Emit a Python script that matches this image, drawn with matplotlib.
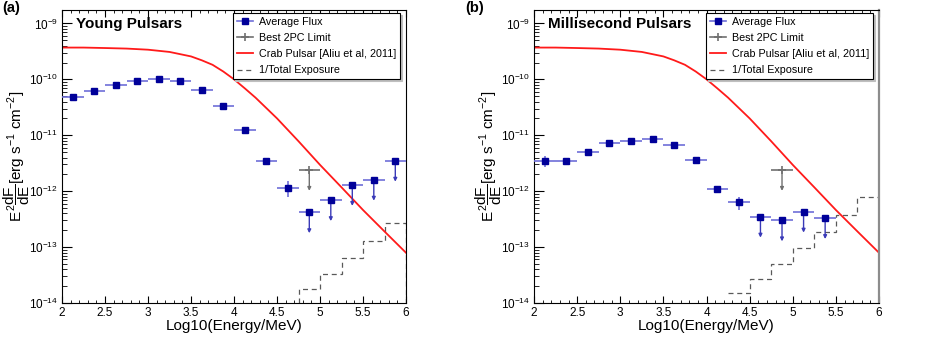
import matplotlib
matplotlib.use('Agg')
import matplotlib.pyplot as plt
from matplotlib.lines import Line2D
from matplotlib.ticker import LogLocator, MultipleLocator, NullFormatter

plt.rcParams['font.family'] = ['Liberation Sans', 'DejaVu Sans']
plt.rcParams['mathtext.fontset'] = 'custom'
plt.rcParams['mathtext.rm'] = 'Liberation Sans'
plt.rcParams['mathtext.it'] = 'Liberation Sans'
plt.rcParams['mathtext.bf'] = 'Liberation Sans:bold'

# ---- data ----
bin_half = 0.125

young_x = [2.125, 2.375, 2.625, 2.875, 3.125, 3.375, 3.625, 3.875,
           4.125, 4.375, 4.625, 4.875, 5.125, 5.375, 5.625, 5.875]
young_flux = [4.9e-11, 6.3e-11, 7.9e-11, 9.3e-11, 1.0e-10, 9.2e-11, 6.4e-11, 3.3e-11,
              1.25e-11, 3.4e-12, 1.15e-12, 4.2e-13, 6.9e-13, 1.29e-12, 1.6e-12, 3.5e-12]
young_err = [2e-12, 2.5e-12, 3e-12, 3.5e-12, 4e-12, 4e-12, 3e-12, 2e-12,
             1e-12, 4e-13, 3.6e-13, 0, 0, 0, 0, 0]
young_ul = [False] * 11 + [True] * 5

msp_x = [2.125, 2.375, 2.625, 2.875, 3.125, 3.375, 3.625, 3.875,
         4.125, 4.375, 4.625, 4.875, 5.125, 5.375]
msp_flux = [3.5e-12, 3.5e-12, 5.1e-12, 7.4e-12, 7.9e-12, 8.5e-12, 6.6e-12, 3.6e-12,
            1.1e-12, 6.3e-13, 3.5e-13, 3.0e-13, 4.3e-13, 3.3e-13]
msp_err = [8e-13, 4e-13, 4e-13, 4e-13, 4e-13, 4e-13, 4e-13, 2e-13,
           1e-13, 1.6e-13, 0, 0, 0, 0]
msp_ul = [False] * 10 + [True] * 4

best2pc_x = 4.875
best2pc_flux = 2.4e-12

crab_logE = [2.0, 2.25, 2.5, 2.75, 3.0, 3.25, 3.5, 3.625, 3.75, 3.875, 4.0,
             4.125, 4.25, 4.5, 4.75, 5.0, 5.25, 5.5, 5.75, 6.0]
crab_flux = [3.7e-10, 3.7e-10, 3.63e-10, 3.55e-10, 3.39e-10, 3.09e-10, 2.57e-10, 2.19e-10,
             1.82e-10, 1.38e-10, 1.0e-10, 6.9e-11, 4.7e-11, 2.0e-11, 7.8e-12,
             2.95e-12, 1.17e-12, 4.6e-13, 1.9e-13, 7.9e-14]

young_exp_edges = [4.75, 5.0, 5.25, 5.5, 5.75, 6.0]
young_exp = [1.75e-14, 3.3e-14, 6.4e-14, 1.26e-13, 2.7e-13]
msp_exp_edges = [4.25, 4.5, 4.75, 5.0, 5.25, 5.5, 5.75, 6.0]
msp_exp = [1.5e-14, 2.7e-14, 5.0e-14, 9.8e-14, 1.87e-13, 3.7e-13, 7.9e-13]

y_decades = [1e-14, 1e-13, 1e-12, 1e-11, 1e-10, 1e-9]

ul_drop = 10 ** -0.375  # arrow length in flux

navy = '#000099'
light = '#6e6ed8'
grey = '#707070'

fig = plt.figure(figsize=(9.26, 3.37), dpi=100)
ax1 = fig.add_axes([0.0670, 0.1009, 0.3715, 0.8694])
ax2 = fig.add_axes([0.5767, 0.1009, 0.3726, 0.8694])


def draw(ax, x, flux, err, ul, exp_edges, exp_vals, title, baseline):
    ax.set_yscale('log')
    ax.set_xlim(2, 6)
    ax.set_ylim(1e-14, 10 ** -8.76)

    ax.plot(crab_logE, crab_flux, color='#ff1a1a', lw=1.3, zorder=2)
    ax.stairs(exp_vals, exp_edges, baseline=baseline, color='0.35',
              ls=(0, (4, 3)), lw=0.9, zorder=1)

    # gray 2PC limit
    ax.errorbar([best2pc_x], [best2pc_flux], xerr=bin_half, fmt='+', color=grey,
                ms=6, mew=1.2, elinewidth=1.2, zorder=3)
    ax.annotate('', xy=(best2pc_x, best2pc_flux * ul_drop), xytext=(best2pc_x, best2pc_flux),
                arrowprops=dict(arrowstyle='-|>', color=grey, lw=1.0, mutation_scale=5,
                                shrinkA=0, shrinkB=0), zorder=3)

    ax.errorbar(x, flux, xerr=bin_half, yerr=err, fmt='none', ecolor=light,
                elinewidth=1.2, capsize=0, zorder=3)
    for xi, fi, u in zip(x, flux, ul):
        if u:
            ax.annotate('', xy=(xi, fi * ul_drop), xytext=(xi, fi),
                        arrowprops=dict(arrowstyle='-|>', color='#3a3ab8', lw=1.0,
                                        mutation_scale=5, shrinkA=0, shrinkB=0), zorder=3)
    ax.plot(x, flux, 's', color=navy, ms=5, zorder=4)

    ax.text(0.041, 0.952, title, transform=ax.transAxes, fontsize=11,
            fontweight='bold', va='center', ha='left')

    ax.xaxis.set_major_locator(MultipleLocator(0.5))
    ax.xaxis.set_minor_locator(MultipleLocator(0.1))
    ax.xaxis.set_major_formatter(plt.FuncFormatter(lambda v, p: '%g' % v))
    ax.set_yticks(y_decades)
    ax.yaxis.set_minor_locator(LogLocator(base=10, subs=range(2, 10), numticks=20))
    ax.yaxis.set_minor_formatter(NullFormatter())
    ax.tick_params(axis='x', which='both', direction='in', top=True, labelsize=8.5, pad=3)
    ax.tick_params(axis='x', which='major', length=5)
    ax.tick_params(axis='x', which='minor', length=2.5)
    ax.tick_params(axis='y', which='both', direction='in', right=False, labelsize=8.5, pad=3)
    ax.tick_params(axis='y', which='major', length=7)
    ax.tick_params(axis='y', which='minor', length=3.5)
    for s in ax.spines.values():
        s.set_linewidth(0.8)

    ax.set_xlabel('Log10(Energy/MeV)', fontsize=11, labelpad=0)
    ax.set_ylabel(r'$E^{2}\dfrac{dF}{dE}$[erg s$^{-1}$ cm$^{-2}$]', fontsize=11)
    ax.yaxis.set_label_coords(-0.088, 0.5)

    handles = [
        Line2D([], [], color=light, lw=1.2, marker='s', ms=5, mfc=navy, mec=navy),
        Line2D([], [], color=grey, lw=1.2, marker='+', ms=6, mew=1.2),
        Line2D([], [], color='#ff1a1a', lw=1.3),
        Line2D([], [], color='0.35', lw=0.9, ls=(0, (4, 3))),
    ]
    labels = ['Average Flux', 'Best 2PC Limit', 'Crab Pulsar [Aliu et al, 2011]',
              '1/Total Exposure']
    leg = ax.legend(handles, labels, loc='upper right', bbox_to_anchor=(0.983, 0.99),
                    borderaxespad=0, fontsize=7.75, frameon=True, fancybox=False,
                    shadow={'color': '0.75', 'alpha': 1, 'ox': 1.5, 'oy': -1.5},
                    labelspacing=0.58, handlelength=1.5, handletextpad=0.55,
                    borderpad=0.35)
    leg.get_frame().set_edgecolor('black')
    leg.get_frame().set_linewidth(0.8)


draw(ax1, young_x, young_flux, young_err, young_ul, young_exp_edges, young_exp,
     'Young Pulsars', 1e-16)
draw(ax2, msp_x, msp_flux, msp_err, msp_ul, msp_exp_edges, msp_exp,
     'Millisecond Pulsars', None)
ax2.spines['right'].set_color('0.55')
ax2.spines['right'].set_linewidth(1.6)

fig.text(0.002, 0.998, '(a)', fontsize=10.5, fontweight='bold', va='top', ha='left')
fig.text(0.502, 0.998, '(b)', fontsize=10.5, fontweight='bold', va='top', ha='left')

fig.savefig('out.png', dpi=100)
